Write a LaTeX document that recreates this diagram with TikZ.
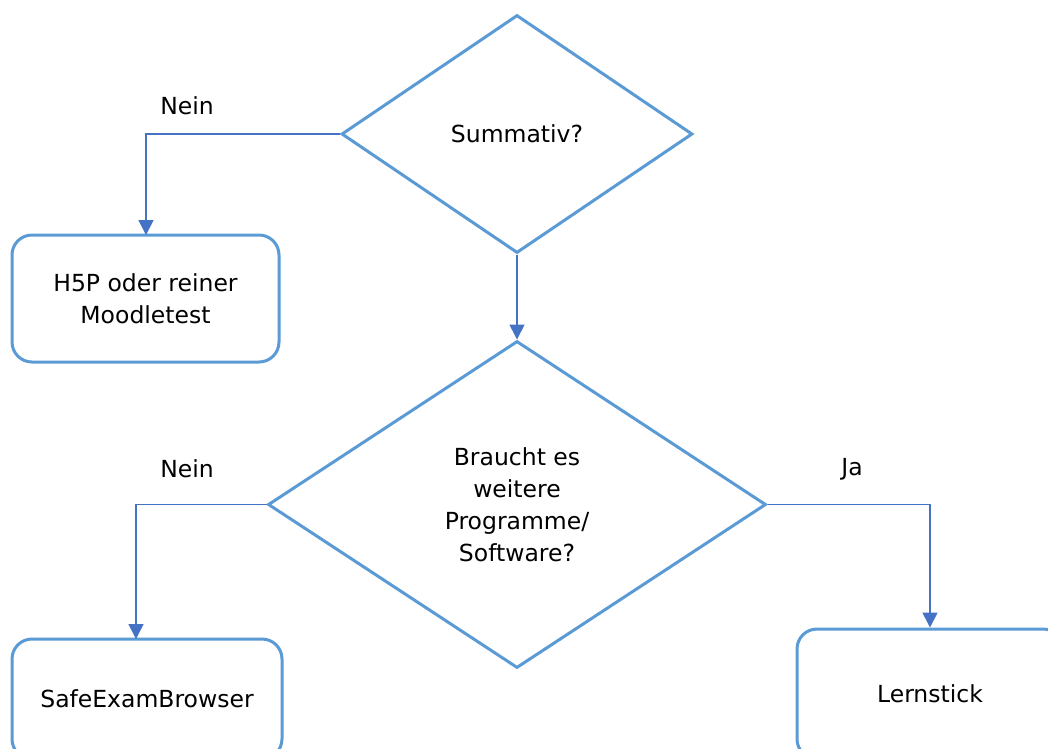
\documentclass[tikz,border=0pt]{standalone}
\usepackage{fontspec}
\setmainfont{DejaVu Sans}
\usetikzlibrary{shapes.geometric,arrows.meta}
\definecolor{shapeblue}{RGB}{91,155,213}
\definecolor{arrowblue}{RGB}{68,114,196}
\tikzset{
  decision/.style={diamond, draw=shapeblue, line width=3pt, inner sep=0pt, align=center, text=black},
  endbox/.style={rectangle, rounded corners=20pt, draw=shapeblue, line width=3pt, align=center, inner sep=0pt},
  conn/.style={draw=arrowblue, line width=1.6pt, -{Triangle[width=15pt,length=15pt]}},
  lbl/.style={inner sep=0pt, text=black},
}
\begin{document}
\begin{tikzpicture}[x=1pt,y=-1pt,font=\fontsize{23.5}{32}\selectfont]
\useasboundingbox (0,0) rectangle (1048,748);
\clip (0,0) rectangle (1048,748);
\fill[white] (0,0) rectangle (1048,748);
\node[decision, minimum width=351pt, minimum height=238pt] (d1) at (517,134) {Summativ?};
\node[decision, minimum width=498pt, minimum height=327pt] (d2) at (517,504.5) {Braucht es\\weitere\\Programme/\\Software?};
\node[endbox, minimum width=267pt, minimum height=127pt] (b1) at (145.5,298.5) {H5P oder reiner\\Moodletest};
\node[endbox, minimum width=270pt, minimum height=120pt] (b2) at (147,699) {SafeExamBrowser};
\node[endbox, minimum width=266pt, minimum height=130pt] (b3) at (930,694) {Lernstick};
\coordinate (c1) at (146,235);
\coordinate (c2) at (136,639);
\draw[conn] (d1.west) -| (c1);
\draw[conn] (d1.south) -- (d2.north);
\draw[conn] (d2.west) -| (c2);
\draw[conn] (d2.east) -| (b3.north);
\node[lbl] (n1) at (187,106) {Nein};
\node[lbl] (n2) at (187,469) {Nein};
\node[lbl] (j1) at (852,469) {Ja};
\end{tikzpicture}
\end{document}
